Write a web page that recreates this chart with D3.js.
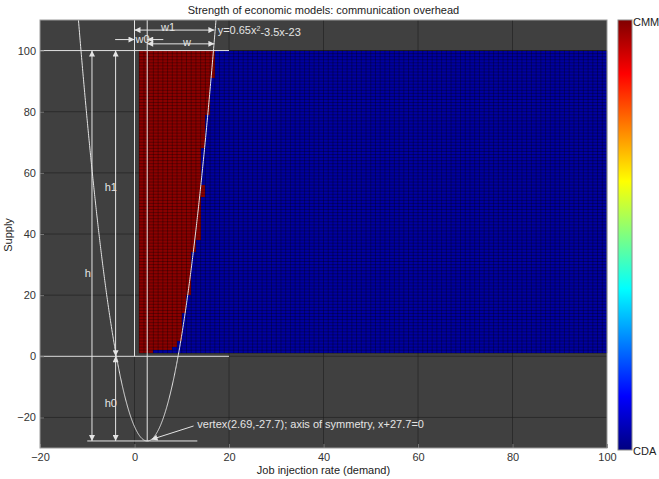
<!DOCTYPE html>
<html>
<head>
<meta charset="utf-8">
<script src="https://cdn.jsdelivr.net/npm/d3@7"></script>
<style>
  html, body { margin: 0; padding: 0; background: #fff; }
  svg { display: block; font-family: "Liberation Sans", Arial, Helvetica, sans-serif; }
</style>
</head>
<body>
<svg id="chart" width="659" height="479"></svg>
<script>
// ---- data -------------------------------------------------------------
const titleText = "Strength of economic models: communication overhead";
const xLabelText = "Job injection rate (demand)";
const yLabelText = "Supply";
const xTicks = [-20, 0, 20, 40, 60, 80, 100];
const yTicks = [-20, 0, 20, 40, 60, 80, 100];
const modelNames = ["CDA", "CMM"];          // bottom / top of the colour bar

// demand grid vertices 1..100, supply grid vertices 1..100
const demandGrid = d3.range(1, 101);
const supplyGrid = d3.range(1, 101);

// For each supply row (1..99): demand value up to which CMM is the stronger model
const cmmLimit = [
   4,  8,  9,  9, 10, 10, 10, 10, 10, 10,   // supply 1-10
  10, 10, 10, 11, 11, 11, 11, 11, 11, 12,   // 11-20
  12, 12, 12, 12, 12, 12, 12, 12, 12, 12,   // 21-30
  12, 12, 12, 13, 13, 13, 13, 14, 14, 14,   // 31-40
  14, 14, 14, 14, 14, 14, 14, 14, 14, 14,   // 41-50
  14, 15, 15, 15, 15, 14, 14, 14, 14, 14,   // 51-60
  14, 14, 14, 14, 14, 14, 14, 15, 15, 15,   // 61-70
  15, 15, 15, 15, 15, 15, 15, 15, 16, 16,   // 71-80
  16, 16, 16, 16, 16, 16, 16, 16, 16, 16,   // 81-90
  17, 17, 17, 17, 17, 17, 17, 17, 17        // 91-99
];

// fitted boundary y = a x^2 + b x + c and its vertex
const fitCoef = [0.65, -3.5, -23];
const fitVertex = [2.69, -27.7];

// ---- layout -----------------------------------------------------------
const FS = 11;
const svg = d3.select("#chart");
const plot = { left: 40, right: 607, top: 20, bottom: 448 };
const x = d3.scaleLinear().domain([-20, 100]).range([plot.left, plot.right]);
const y = d3.scaleLinear().domain([-30, 110]).range([plot.bottom, plot.top]);

// MATLAB "jet" colour map
const jet = d3.scaleLinear()
  .domain([0, 0.125, 0.375, 0.625, 0.875, 1])
  .range(["#000080", "#0000ff", "#00ffff", "#ffff00", "#ff0000", "#800000"]);

const annot = "#e4e4e4";

// clip region
svg.append("clipPath").attr("id", "plotClip")
  .append("rect")
  .attr("x", plot.left).attr("y", plot.top)
  .attr("width", plot.right - plot.left).attr("height", plot.bottom - plot.top);

// arrow head marker
const defs = svg.append("defs");
defs.append("marker")
  .attr("id", "head")
  .attr("viewBox", "0 0 10 10")
  .attr("refX", 10).attr("refY", 5)
  .attr("markerWidth", 7).attr("markerHeight", 6)
  .attr("markerUnits", "userSpaceOnUse")
  .attr("orient", "auto-start-reverse")
  .append("path").attr("d", "M0,0 L10,5 L0,10 Z").attr("fill", annot);

// axes background
svg.append("rect")
  .attr("x", plot.left).attr("y", plot.top)
  .attr("width", plot.right - plot.left).attr("height", plot.bottom - plot.top)
  .attr("fill", "#404040");

// grid lines at the ticks (below the data)
const grid = svg.append("g").attr("stroke", "#1e1e1e").attr("stroke-opacity", 0.6).attr("stroke-width", 1);
xTicks.slice(1, -1).forEach(t => grid.append("line")
  .attr("x1", x(t)).attr("x2", x(t)).attr("y1", plot.top).attr("y2", plot.bottom));
yTicks.forEach(t => grid.append("line")
  .attr("x1", plot.left).attr("x2", plot.right).attr("y1", y(t)).attr("y2", y(t)));

// ---- winner map (pcolor style cells) ----------------------------------
const cells = [];
for (let j = 0; j < supplyGrid.length - 1; j++) {
  for (let i = 0; i < demandGrid.length - 1; i++) {
    const d0 = demandGrid[i], s0 = supplyGrid[j];
    cells.push({ d0, d1: demandGrid[i + 1], s0, s1: supplyGrid[j + 1], cmm: d0 < cmmLimit[j] });
  }
}
const map = svg.append("g");
map.selectAll("rect").data(cells).join("rect")
  .attr("x", d => x(d.d0))
  .attr("y", d => y(d.s1))
  .attr("width", d => x(d.d1) - x(d.d0))
  .attr("height", d => y(d.s0) - y(d.s1))
  .attr("fill", d => d.cmm ? "#8a0000" : "#0000a0")
  .attr("shape-rendering", "crispEdges");

// cell edges
const edgePath = d3.path();
demandGrid.forEach(v => { edgePath.moveTo(x(v), y(supplyGrid[0])); edgePath.lineTo(x(v), y(supplyGrid[supplyGrid.length - 1])); });
supplyGrid.forEach(v => { edgePath.moveTo(x(demandGrid[0]), y(v)); edgePath.lineTo(x(demandGrid[demandGrid.length - 1]), y(v)); });
map.append("path").attr("d", edgePath.toString())
  .attr("stroke", "#000").attr("stroke-opacity", 0.4).attr("stroke-width", 0.8).attr("fill", "none");

// ---- annotations --------------------------------------------------------
const ann = svg.append("g").attr("clip-path", "url(#plotClip)")
  .attr("stroke", annot).attr("stroke-width", 1).attr("fill", "none");

// fitted parabola
const parabola = d3.range(-12.5, 17.8, 0.05).map(v => [v, fitCoef[0] * v * v + fitCoef[1] * v + fitCoef[2]]);
ann.append("path")
  .attr("d", d3.line().x(d => x(d[0])).y(d => y(d[1]))(parabola));

function seg(x1, y1, x2, y2, startHead, endHead) {
  const l = ann.append("line")
    .attr("x1", x(x1)).attr("y1", y(y1)).attr("x2", x(x2)).attr("y2", y(y2));
  if (startHead) l.attr("marker-start", "url(#head)");
  if (endHead) l.attr("marker-end", "url(#head)");
  return l;
}

// reference lines
seg(-20, 100, 20, 100);
seg(-20, 0, 20, 0);
seg(-10, fitVertex[1], 13.3, fitVertex[1]);
seg(0, 110, 0, 0);
seg(fitVertex[0], 110, fitVertex[0], fitVertex[1]);

// height arrows
seg(-9, 100, -9, fitVertex[1], true, true);
seg(-4, 100, -4, 0, true, true);
seg(-4, 0, -4, fitVertex[1], true, true);

// width arrows
seg(0, 106.7, 16.9, 106.7, true, true);
seg(fitVertex[0], 102.2, 16.9, 102.2, true, true);
seg(-4.1, 103.6, 0, 103.6, false, true);
seg(6.1, 103.6, fitVertex[0], 103.6, false, true);

// vertex pointer
seg(12.5, -22.8, 3.6, -27.2, false, true);

const txt = svg.append("g").attr("fill", annot).attr("font-size", FS);
function label(t, xv, yv, anchor) {
  return txt.append("text").attr("x", x(xv)).attr("y", y(yv)).attr("dy", "0.35em")
    .attr("text-anchor", anchor || "start").text(t);
}
label("w1", 7.1, 107.6, "middle");
label("w", 11.1, 102.9, "middle");
label("w0", 0.2, 103.6);
label("h", -9.9, 27.2, "middle");
label("h1", -5.0, 55.4, "middle");
label("h0", -5.0, -15.2, "middle");
label("vertex(" + fitVertex[0] + "," + fitVertex[1] + "); axis of symmetry, x+27.7=0", 13.3, -22.2);
const fitLabel = label("", 17.6, 106.7);
fitLabel.append("tspan").text("y=" + fitCoef[0] + "x");
fitLabel.append("tspan").attr("dy", "-0.45em").attr("font-size", 7).text("2");
fitLabel.append("tspan").attr("dy", "0.45em").text(fitCoef[1] + "x" + fitCoef[2]);

// ---- axes -------------------------------------------------------------
const xAxis = svg.append("g").attr("transform", `translate(0,${plot.bottom})`)
  .call(d3.axisBottom(x).tickValues(xTicks).tickSize(-4).tickPadding(5).tickFormat(d3.format("d")));
const yAxis = svg.append("g").attr("transform", `translate(${plot.left},0)`)
  .call(d3.axisLeft(y).tickValues(yTicks).tickSize(-4).tickPadding(4).tickFormat(d3.format("d")));
[xAxis, yAxis].forEach(a => {
  a.select(".domain").remove();
  a.selectAll(".tick line").attr("stroke", "#777");
  a.selectAll(".tick text").attr("fill", "#333").attr("font-size", FS)
    .attr("font-family", "'Liberation Sans', Arial, sans-serif");
});

// axes box
svg.append("rect")
  .attr("x", plot.left).attr("y", plot.top)
  .attr("width", plot.right - plot.left).attr("height", plot.bottom - plot.top)
  .attr("fill", "none").attr("stroke", "#9a9a9a").attr("stroke-width", 1);

// titles
svg.append("text").attr("x", (plot.left + plot.right) / 2).attr("y", 10).attr("dy", "0.35em")
  .attr("text-anchor", "middle").attr("font-size", FS).attr("fill", "#222").text(titleText);
svg.append("text").attr("x", (plot.left + plot.right) / 2).attr("y", 470).attr("dy", "0.35em")
  .attr("text-anchor", "middle").attr("font-size", FS).attr("fill", "#222").text(xLabelText);
svg.append("text").attr("transform", `translate(8,${(plot.top + plot.bottom) / 2 + 1}) rotate(-90)`)
  .attr("dy", "0.35em").attr("text-anchor", "middle").attr("font-size", FS).attr("fill", "#222").text(yLabelText);

// ---- colour bar -------------------------------------------------------
const cb = { x: 618, w: 14, top: 20, bottom: 450 };
const grad = defs.append("linearGradient").attr("id", "jetGrad")
  .attr("x1", 0).attr("y1", 1).attr("x2", 0).attr("y2", 0);
jet.domain().forEach(t => grad.append("stop").attr("offset", t).attr("stop-color", jet(t)));
svg.append("rect")
  .attr("x", cb.x).attr("y", cb.top).attr("width", cb.w).attr("height", cb.bottom - cb.top)
  .attr("fill", "url(#jetGrad)").attr("stroke", "#8a8a8a").attr("stroke-width", 1);
svg.append("text").attr("x", cb.x + cb.w + 1).attr("y", cb.top + 2).attr("dy", "0.35em")
  .attr("font-size", FS).attr("fill", "#222").text(modelNames[1]);
svg.append("text").attr("x", cb.x + cb.w + 1).attr("y", cb.bottom + 1).attr("dy", "0.35em")
  .attr("font-size", FS).attr("fill", "#222").text(modelNames[0]);
</script>
</body>
</html>
